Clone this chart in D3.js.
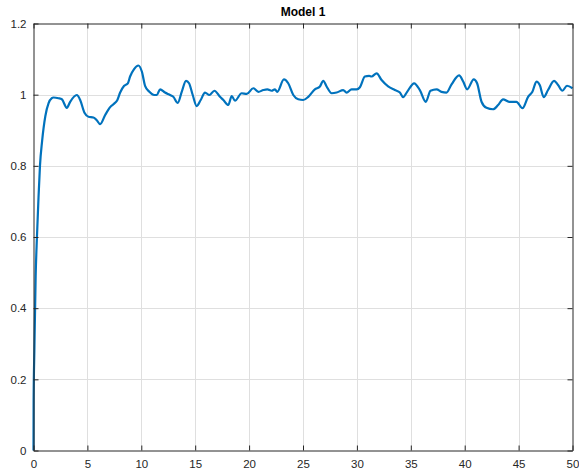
<!DOCTYPE html>
<html>
<head>
<meta charset="utf-8">
<script src="https://cdn.jsdelivr.net/npm/d3@7"></script>
<style>
  html, body { margin: 0; padding: 0; background: #fff; }
  svg { display: block; }
  text { font-family: "Liberation Sans", Arial, Helvetica, sans-serif; }
</style>
</head>
<body>
<svg id="chart" width="579" height="475"></svg>
<script>
const title = "Model 1";
const xTicks = [0, 5, 10, 15, 20, 25, 30, 35, 40, 45, 50];
const yTicks = [0, 0.2, 0.4, 0.6, 0.8, 1, 1.2];
const yTickLabels = ["0", "0.2", "0.4", "0.6", "0.8", "1", "1.2"];

const timeValues = [
  0, 0.01, 0.08, 0.2, 0.32, 0.45, 0.6, 0.8, 1.1, 1.4, 1.7,
  1.85, 2.32, 2.63, 3.09, 3.40, 4.02, 4.33, 4.73, 5.1, 5.56, 5.87, 6.18,
  6.65, 7.11, 7.57, 7.78, 8.04, 8.41, 8.75, 8.96, 9.33, 9.73, 10.05, 10.35,
  10.75, 11.19, 11.44, 11.74, 12.2, 12.67, 12.97, 13.38, 13.75, 14.15, 14.43,
  14.77, 15.14, 15.51, 15.91, 16.31, 16.78, 17.3, 17.61, 18.07, 18.39, 18.69,
  19.31, 19.78, 20.39, 20.86, 21.32, 21.69, 22.09, 22.4, 22.61, 23.23, 23.63,
  24.1, 24.56, 25.02, 25.49, 26.1, 26.57, 26.88, 27.19, 27.66, 28.12, 28.73,
  29.04, 29.51, 29.97, 30.28, 30.74, 31.14, 31.36, 31.83, 32.29, 32.9, 33.52,
  33.99, 34.29, 34.66, 35.31, 35.84, 36.39, 36.83, 37.39, 37.85, 38.31, 38.78,
  39.48, 39.86, 40.22, 40.84, 41.15, 41.56, 42.02, 42.63, 43.1, 43.56, 44.12,
  44.8, 45.36, 45.88, 46.28, 46.66, 46.96, 47.33, 47.73, 48.29, 48.66, 49.06,
  49.49, 50
];
const responseValues = [
  0, 0.14, 0.28, 0.49, 0.60, 0.70, 0.80, 0.87, 0.94, 0.976, 0.99,
  0.992, 0.990, 0.987, 0.963, 0.980, 0.999, 0.985, 0.949, 0.938, 0.936, 0.928, 0.917,
  0.943, 0.965, 0.977, 0.985, 1.006, 1.025, 1.032, 1.051, 1.072, 1.082, 1.065, 1.025,
  1.008, 0.999, 0.999, 1.015, 1.006, 0.999, 0.994, 0.977, 1.008, 1.039, 1.032,
  0.999, 0.968, 0.985, 1.006, 0.999, 1.011, 0.994, 0.985, 0.971, 0.996, 0.983,
  1.004, 1.002, 1.018, 1.008, 1.013, 1.015, 1.011, 1.015, 1.008, 1.043, 1.032,
  0.999, 0.987, 0.985, 0.994, 1.015, 1.023, 1.039, 1.023, 1.004, 1.006, 1.013,
  1.006, 1.015, 1.015, 1.021, 1.051, 1.053, 1.051, 1.060, 1.041, 1.023, 1.013,
  1.006, 0.993, 1.008, 1.032, 1.013, 0.980, 1.011, 1.015, 1.008, 1.006, 1.029,
  1.054, 1.037, 1.015, 1.043, 1.032, 0.980, 0.963, 0.959, 0.971, 0.987, 0.980,
  0.980, 0.962, 0.994, 1.008, 1.037, 1.027, 0.993, 1.013, 1.039, 1.027, 1.011,
  1.025, 1.018
];

const svg = d3.select("#chart");
const L = 33.5, R = 572.5, T = 23.5, B = 450.5;

const x = d3.scaleLinear().domain([0, 50]).range([L, R]);
const y = d3.scaleLinear().domain([0, 1.2]).range([B, T]);

const axisColor = "#262626";
const gridColor = "#dfdfdf";

// grid
const grid = svg.append("g");
grid.selectAll("line.vx").data(xTicks.slice(1, -1)).enter().append("line")
  .attr("x1", d => Math.round(x(d)) + 0.5).attr("x2", d => Math.round(x(d)) + 0.5)
  .attr("y1", T).attr("y2", B)
  .attr("stroke", gridColor).attr("stroke-width", 1);
grid.selectAll("line.hy").data(yTicks.slice(1, -1)).enter().append("line")
  .attr("x1", L).attr("x2", R)
  .attr("y1", d => Math.round(y(d)) + 0.5).attr("y2", d => Math.round(y(d)) + 0.5)
  .attr("stroke", gridColor).attr("stroke-width", 1);

// data line
const data = timeValues.map((t, i) => ({ t, v: responseValues[i] }));
const line = d3.line().x(d => x(d.t)).y(d => y(d.v)).curve(d3.curveMonotoneX);
svg.append("path").datum(data)
  .attr("d", line)
  .attr("fill", "none")
  .attr("stroke", "#0072BD")
  .attr("stroke-width", 2.2)
  .attr("stroke-linejoin", "round");

// axes (MATLAB-like: box, inward ticks mirrored)
const tickLen = 5;
const bottomAxis = d3.axisBottom(x).tickValues(xTicks).tickSizeInner(-tickLen).tickSizeOuter(0).tickPadding(9)
  .tickFormat(d3.format("d"));
const gB = svg.append("g").attr("transform", `translate(0,${B})`).call(bottomAxis);
const topAxis = d3.axisTop(x).tickValues(xTicks).tickSizeInner(-tickLen).tickSizeOuter(0).tickFormat("");
const gT = svg.append("g").attr("transform", `translate(0,${T})`).call(topAxis);
const leftAxis = d3.axisLeft(y).tickValues(yTicks).tickSizeInner(-tickLen).tickSizeOuter(0).tickPadding(7)
  .tickFormat((d, i) => yTickLabels[i]);
const gL = svg.append("g").attr("transform", `translate(${L},0)`).call(leftAxis);
const rightAxis = d3.axisRight(y).tickValues(yTicks).tickSizeInner(-tickLen).tickSizeOuter(0).tickFormat("");
const gR = svg.append("g").attr("transform", `translate(${R},0)`).call(rightAxis);

[gB, gT, gL, gR].forEach(g => {
  g.select(".domain").attr("stroke", axisColor).attr("stroke-width", 1);
  g.selectAll(".tick line").attr("stroke", axisColor).attr("stroke-width", 1);
  g.selectAll(".tick text").attr("fill", axisColor).attr("font-size", 11.5)
    .style("font-family", "'Liberation Sans', Arial, Helvetica, sans-serif");
});

// title
svg.append("text")
  .attr("x", (L + R) / 2).attr("y", 16)
  .attr("text-anchor", "middle")
  .attr("font-size", 12).attr("font-weight", "bold")
  .attr("fill", "#000")
  .text(title);
</script>
</body>
</html>
